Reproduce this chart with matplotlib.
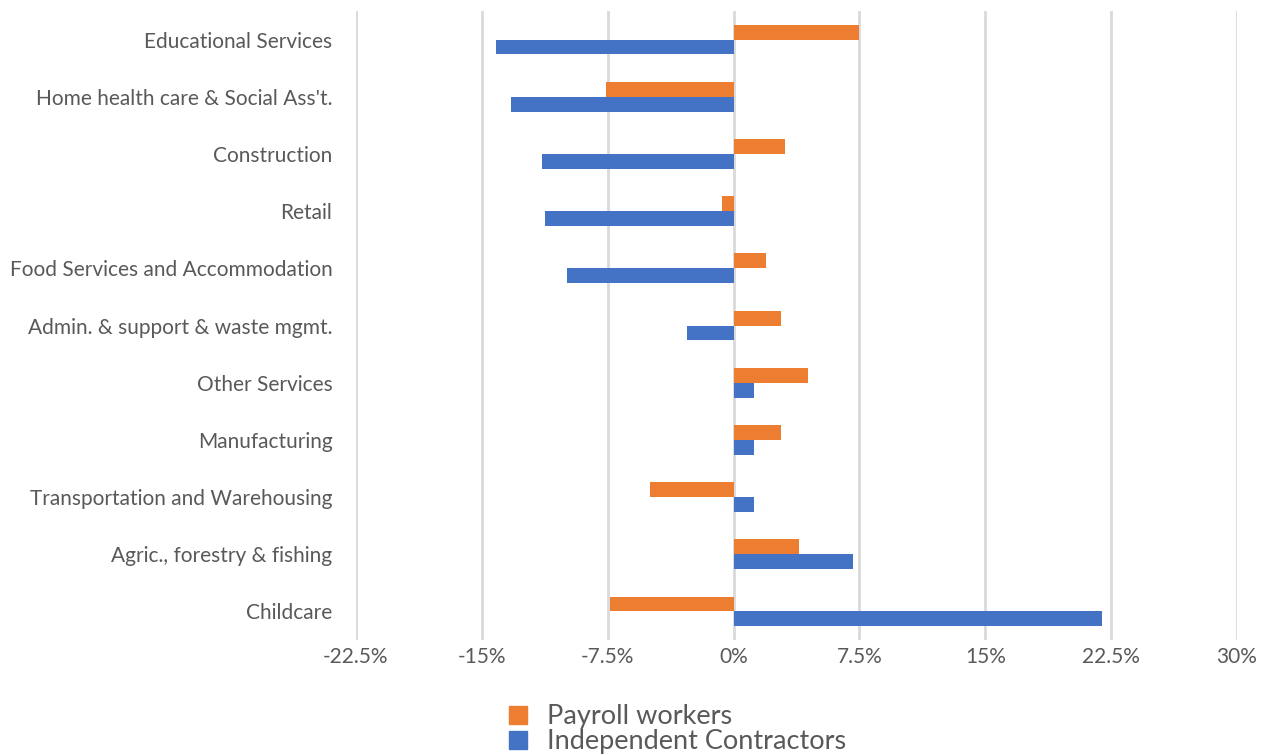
import matplotlib
matplotlib.use("Agg")
import matplotlib.pyplot as plt
from matplotlib.lines import Line2D
import numpy as np

# categories top to bottom, as in the chart
categories = [
    "Educational Services",
    "Home health care & Social Ass't.",
    "Construction",
    "Retail",
    "Food Services and Accommodation",
    "Admin. & support & waste mgmt.",
    "Other Services",
    "Manufacturing",
    "Transportation and Warehousing",
    "Agric., forestry & fishing",
    "Childcare",
]
payroll = [7.5, -7.6, 3.05, -0.7, 1.96, 2.8, 4.43, 2.8, -4.97, 3.9, -7.34]
contractors = [-14.15, -13.28, -11.39, -11.23, -9.93, -2.79, 1.2, 1.2, 1.22, 7.13, 21.97]
xticks = [-22.5, -15, -7.5, 0, 7.5, 15, 22.5, 30]
xticklabels = ["-22.5%", "-15%", "-7.5%", "0%", "7.5%", "15%", "22.5%", "30%"]

ORANGE = "#ED7D31"
BLUE = "#4472C4"
TXT = "#595959"
plt.rcParams["font.family"] = ["Lato", "DejaVu Sans"]

fig = plt.figure(figsize=(12.65, 7.55), dpi=100)
ax = fig.add_axes([356 / 1265, 1 - 640 / 755, (1237 - 356) / 1265, (640 - 11) / 755])

y = np.arange(len(categories))
h = 0.26
ax.barh(y - h / 2, payroll, height=h, color=ORANGE, zorder=3, label="Payroll workers")
ax.barh(y + h / 2, contractors, height=h, color=BLUE, zorder=3, label="Independent Contractors")

ax.set_ylim(len(categories) - 0.5, -0.5)
ax.set_xlim(-22.5, 30)
ax.set_yticks(y)
ax.set_yticklabels(categories, fontsize=15, color=TXT)
ax.set_xticks(xticks)
ax.set_xticklabels(xticklabels, fontsize=15, color=TXT)
ax.tick_params(length=0)
ax.tick_params(axis="y", pad=17)
ax.tick_params(axis="x", pad=5)
ax.grid(axis="x", color="#d9d9d9", linewidth=2, zorder=0)
for s in ax.spines.values():
    s.set_visible(False)

handles = [
    Line2D([], [], marker="s", linestyle="none", markersize=13, color=ORANGE),
    Line2D([], [], marker="s", linestyle="none", markersize=13, color=BLUE),
]
fig.legend(handles, ["Payroll workers", "Independent Contractors"],
           loc="upper left", bbox_to_anchor=(504 / 1265, 1 - 704 / 755),
           frameon=False, fontsize=19.5, labelcolor=TXT,
           handlelength=1.0, handletextpad=0.6, labelspacing=0.0,
           borderpad=0, borderaxespad=0)

fig.savefig("out.png", dpi=100)
